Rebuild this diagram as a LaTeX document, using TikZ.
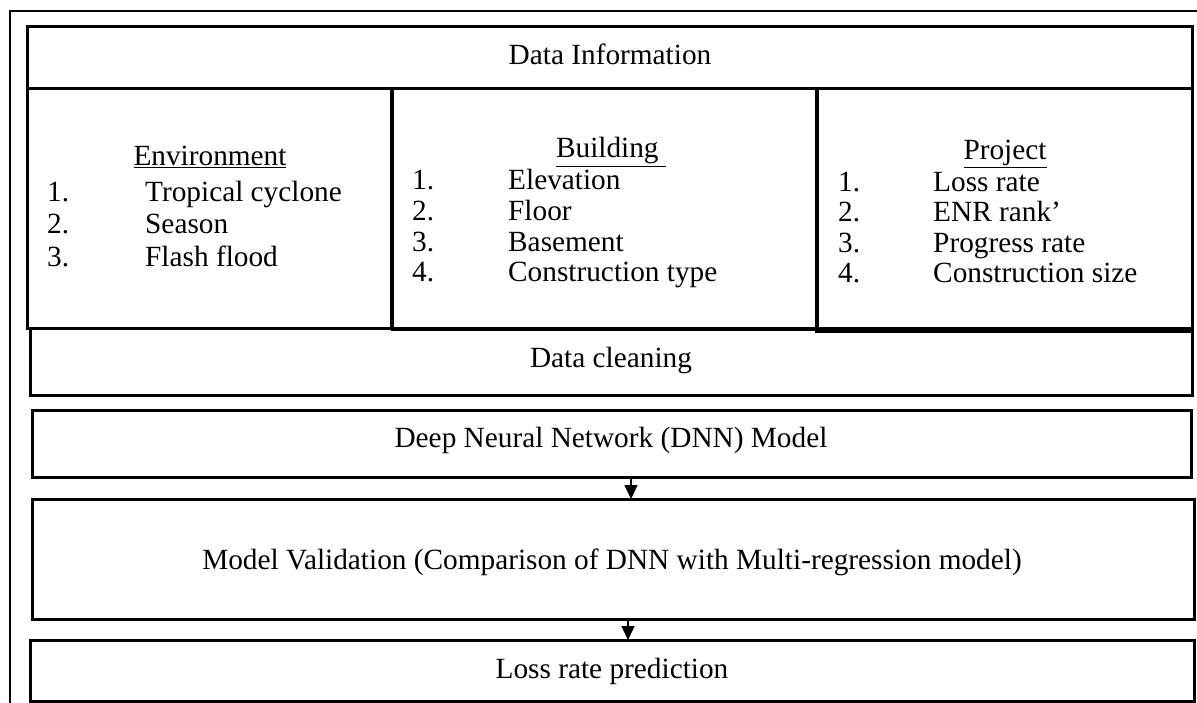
\documentclass[tikz,border=0pt]{standalone}
\usepackage{fontspec}
\setmainfont{Liberation Serif}
\usetikzlibrary{arrows.meta}
\begin{document}
\begin{tikzpicture}[x=1pt,y=-1pt,
  box/.style={draw, line width=3pt, inner sep=0pt, outer sep=0pt, anchor=north west},
  txt/.style={font=\fontsize{29.3}{31}\selectfont, inner sep=0pt, anchor=base},
  item/.style={font=\fontsize{29.3}{31}\selectfont, inner sep=0pt, anchor=base west},
  flow/.style={line width=1.3pt, -{Triangle[length=14pt,width=13pt]}}]
\useasboundingbox (0,0) rectangle (1197,703);
% outer frame (extends past the right and bottom edges)
\node[box, line width=2.8pt, minimum width=1220pt, minimum height=740pt] (frame) at (10,11) {};
% boxes
\node[box, minimum width=1162pt, minimum height=66pt] (clean) at (30,329) {};
\node[box, minimum width=1165pt, minimum height=62pt] (info) at (27,27) {};
\node[box, minimum width=364pt, minimum height=240pt] (env) at (27,89) {};
\node[box, minimum width=425pt, minimum height=241pt] (bld) at (392,89) {};
\node[box, minimum width=376pt, minimum height=243pt] (proj) at (816,89) {};
\node[box, minimum width=1159pt, minimum height=67pt] (dnn) at (32,410) {};
\node[box, minimum width=1162pt, minimum height=120pt] (mv) at (32,499) {};
\node[box, minimum width=1164pt, minimum height=61pt] (loss) at (30,640) {};
% texts
\node[txt] (tinfo) at (610,65) {Data Information};
\node[txt] (tclean) at (611,367) {Data cleaning};
\node[txt] (tdnn) at (611,447) {Deep Neural Network (DNN) Model};
\node[txt] (tmv) at (612,569) {Model Validation (Comparison of DNN with Multi-regression model)};
\node[txt] (tloss) at (612,678) {Loss rate prediction};
\node[txt] (henv) at (210,166) {\underline{Environment}};
\node[txt] (hbld) at (611,158) {\underline{Building\ }};
\node[txt] (hproj) at (1005,160) {\underline{Project}};
% lists
\foreach \n/\t/\y in {1/Tropical cyclone/202, 2/Season/234, 3/Flash flood/267}{
  \node[item] (en\n) at (47,\y) {\n.};
  \node[item] (et\n) at (145,\y) {\t};
}
\foreach \n/\t/\y in {1/Elevation/190, 2/Floor/221, 3/Basement/252, 4/Construction type/282}{
  \node[item] (bn\n) at (412,\y) {\n.};
  \node[item] (bt\n) at (508,\y) {\t};
}
\foreach \n/\t/\y in {1/Loss rate/192, 2/ENR rank’/222, 3/Progress rate/253, 4/Construction size/283}{
  \node[item] (pn\n) at (838,\y) {\n.};
  \node[item] (pt\n) at (933,\y) {\t};
}
% arrows
\coordinate (x1) at (631,0);
\coordinate (x2) at (628,0);
\draw[flow] (dnn.south -| x1) -- (mv.north -| x1);
\draw[flow] (mv.south -| x2) -- (loss.north -| x2);
\end{tikzpicture}
\end{document}
